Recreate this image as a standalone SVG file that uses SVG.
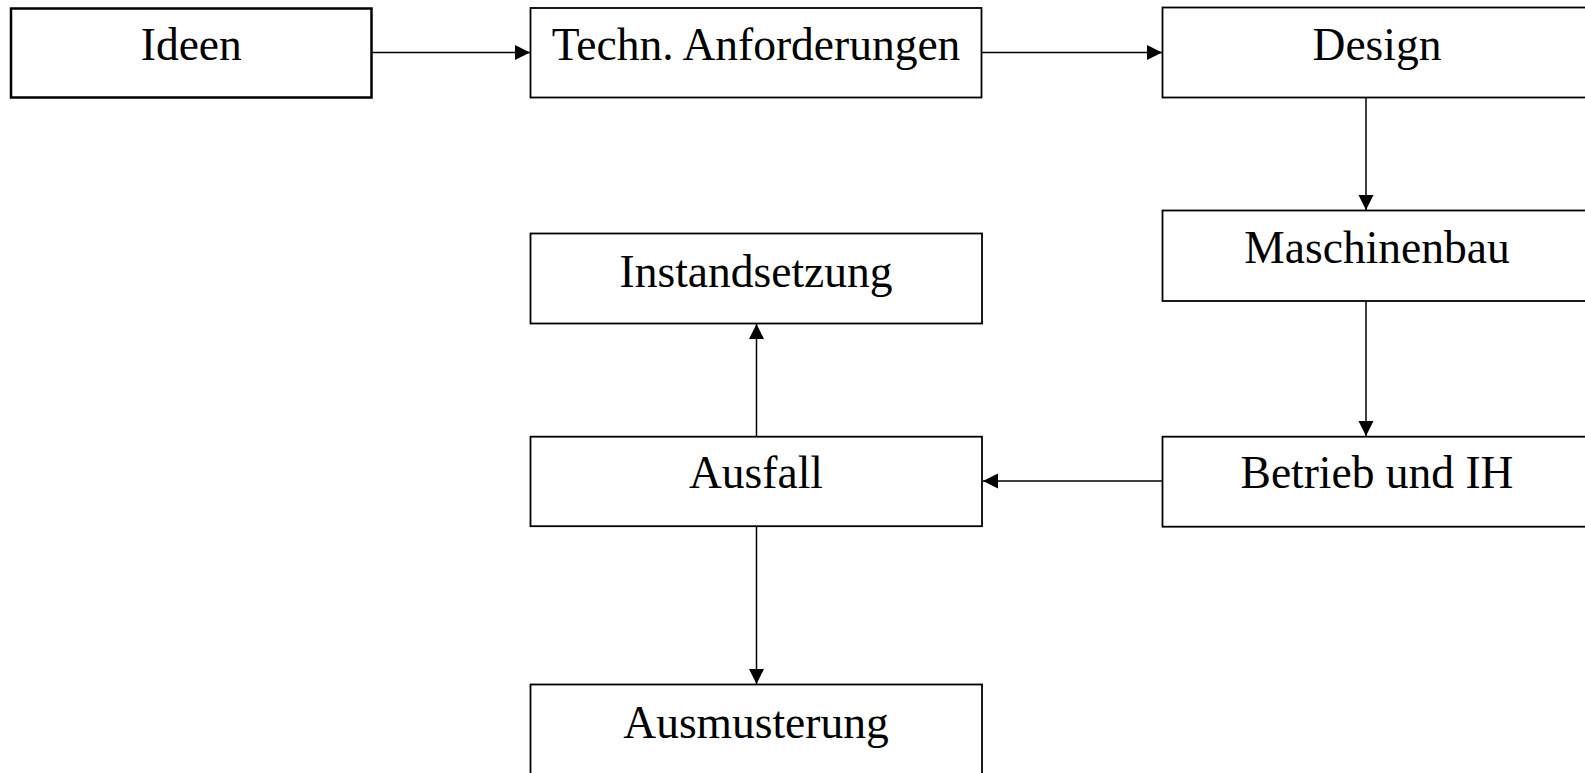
<svg xmlns="http://www.w3.org/2000/svg" width="1585" height="773" viewBox="0 0 1585 773">
<style>
.box{fill:#fff;stroke:#000;stroke-width:1.8}
.thick{stroke-width:2.5}
.lbl{font-family:"Liberation Serif","Times New Roman",serif;font-size:45.5px;fill:#000;text-anchor:middle}
.con{stroke:#000;stroke-width:1.5;fill:none;marker-end:url(#arr)}
</style>
<defs>
<marker id="arr" markerUnits="userSpaceOnUse" markerWidth="16" markerHeight="16" refX="15" refY="7.5" orient="auto">
<path d="M0,0 L15,7.5 L0,15 Z" fill="#000"/>
</marker>
</defs>
<rect width="1585" height="773" fill="#fff"/>
<g id="connectors">
<line class="con" x1="372" y1="52.5" x2="530" y2="52.5"/>
<line class="con" x1="982" y1="52.5" x2="1162" y2="52.5"/>
<line class="con" x1="1366" y1="98" x2="1366" y2="210"/>
<line class="con" x1="1366" y1="301" x2="1366" y2="436"/>
<line class="con" x1="1162" y1="481" x2="983" y2="481"/>
<line class="con" x1="756.5" y1="437" x2="756.5" y2="324"/>
<line class="con" x1="756.5" y1="526" x2="756.5" y2="684"/>
</g>
<g id="ideen">
<rect class="box thick" x="11" y="8.5" width="360.5" height="89"/>
<text class="lbl" x="191.3" y="60">Ideen</text>
</g>
<g id="techn">
<rect class="box" x="530.5" y="8" width="451" height="89.5"/>
<text class="lbl" x="756" y="60">Techn. Anforderungen</text>
</g>
<g id="design">
<rect class="box" x="1162.5" y="7.5" width="428.5" height="90"/>
<text class="lbl" x="1377" y="60">Design</text>
</g>
<g id="maschinenbau">
<rect class="box" x="1162.5" y="210.5" width="428.5" height="90.5"/>
<text class="lbl" x="1377" y="263.3">Maschinenbau</text>
</g>
<g id="betrieb">
<rect class="box" x="1162.5" y="436.7" width="428.5" height="90"/>
<text class="lbl" x="1377" y="488.3">Betrieb und IH</text>
</g>
<g id="instandsetzung">
<rect class="box" x="530.5" y="233.5" width="451.5" height="90"/>
<text class="lbl" x="756" y="286.7">Instandsetzung</text>
</g>
<g id="ausfall">
<rect class="box" x="530.5" y="436.7" width="451.5" height="89.5"/>
<text class="lbl" x="756" y="488.3">Ausfall</text>
</g>
<g id="ausmusterung">
<rect class="box" x="530.5" y="684.5" width="451.5" height="95"/>
<text class="lbl" x="756" y="738.3">Ausmusterung</text>
</g>
</svg>
